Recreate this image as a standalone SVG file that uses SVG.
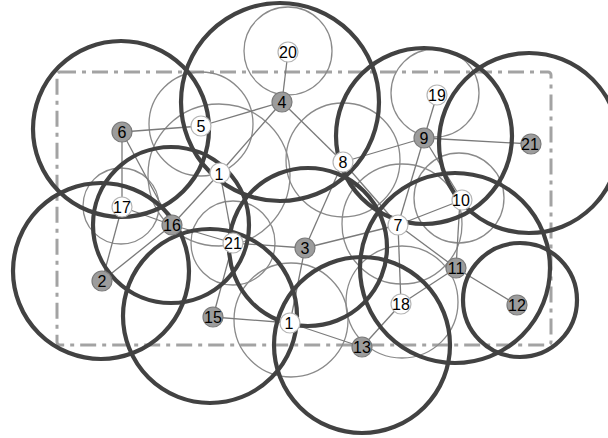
<svg xmlns="http://www.w3.org/2000/svg" width="608" height="438" viewBox="0 0 608 438">
<style>
.bg{fill:#ffffff}
.frame{fill:none;stroke:#a3a3a3;stroke-width:3;stroke-dasharray:16 6 4 6}
.thin{fill:none;stroke:#8a8a8a;stroke-width:1.3}
.thick{fill:none;stroke:#424242;stroke-width:4.2}
.edge{stroke:#7a7a7a;stroke-width:1.3;fill:none}
.ng{fill:#9c9c9c;stroke:#7a7a7a;stroke-width:1.2}
.nw{fill:#ffffff;stroke:#b5b5b5;stroke-width:1.2}
.lbl{font-family:"Liberation Sans",Arial,sans-serif;font-size:16px;fill:#000;text-anchor:middle;dominant-baseline:central}
</style>
<rect class="bg" x="0" y="0" width="608" height="438"/>
<rect class="frame" x="57" y="72" width="494" height="273" rx="3"/>
<g id="thin-circles">
<circle class="thin" cx="288" cy="51" r="44"/>
<circle class="thin" cx="435" cy="93" r="44"/>
<circle class="thin" cx="201" cy="124" r="52"/>
<circle class="thin" cx="219" cy="175" r="71"/>
<circle class="thin" cx="121" cy="206" r="38"/>
<circle class="thin" cx="233" cy="243" r="42"/>
<circle class="thin" cx="343" cy="160" r="57"/>
<circle class="thin" cx="459" cy="198" r="45"/>
<circle class="thin" cx="402" cy="224" r="60"/>
<circle class="thin" cx="402" cy="302" r="56"/>
<circle class="thin" cx="291" cy="320" r="57"/>
</g>
<g id="connectors">
<line class="edge" x1="288" y1="52" x2="282" y2="102"/>
<line class="edge" x1="282" y1="102" x2="201" y2="126"/>
<line class="edge" x1="201" y1="126" x2="122" y2="132"/>
<line class="edge" x1="122" y1="132" x2="122" y2="207"/>
<line class="edge" x1="122" y1="132" x2="172" y2="225"/>
<line class="edge" x1="282" y1="102" x2="220" y2="173"/>
<line class="edge" x1="282" y1="102" x2="343" y2="162"/>
<line class="edge" x1="220" y1="173" x2="233" y2="243"/>
<line class="edge" x1="220" y1="173" x2="172" y2="225"/>
<line class="edge" x1="343" y1="162" x2="424" y2="138"/>
<line class="edge" x1="343" y1="162" x2="305" y2="248"/>
<line class="edge" x1="343" y1="162" x2="398" y2="225"/>
<line class="edge" x1="305" y1="248" x2="233" y2="243"/>
<line class="edge" x1="305" y1="248" x2="398" y2="225"/>
<line class="edge" x1="305" y1="248" x2="290" y2="323"/>
<line class="edge" x1="290" y1="323" x2="213" y2="317"/>
<line class="edge" x1="290" y1="323" x2="362" y2="347"/>
<line class="edge" x1="213" y1="317" x2="233" y2="243"/>
<line class="edge" x1="401" y1="304" x2="362" y2="347"/>
<line class="edge" x1="401" y1="304" x2="398" y2="225"/>
<line class="edge" x1="401" y1="304" x2="456" y2="268"/>
<line class="edge" x1="456" y1="268" x2="517" y2="305"/>
<line class="edge" x1="456" y1="268" x2="460" y2="200"/>
<line class="edge" x1="456" y1="268" x2="398" y2="225"/>
<line class="edge" x1="462" y1="200" x2="398" y2="225"/>
<line class="edge" x1="424" y1="138" x2="398" y2="225"/>
<line class="edge" x1="424" y1="138" x2="437" y2="95"/>
<line class="edge" x1="424" y1="138" x2="531" y2="144"/>
<line class="edge" x1="424" y1="138" x2="462" y2="200"/>
<line class="edge" x1="172" y1="225" x2="122" y2="207"/>
<line class="edge" x1="172" y1="225" x2="102" y2="281"/>
<line class="edge" x1="122" y1="207" x2="102" y2="281"/>
<line class="edge" x1="172" y1="225" x2="233" y2="243"/>
</g>
<g id="thick-circles">
<circle class="thick" cx="121" cy="129" r="88"/>
<circle class="thick" cx="280" cy="102" r="99"/>
<circle class="thick" cx="424" cy="136" r="88"/>
<circle class="thick" cx="529" cy="143" r="90"/>
<circle class="thick" cx="101" cy="271" r="88"/>
<circle class="thick" cx="171" cy="225" r="78"/>
<circle class="thick" cx="210" cy="316" r="87"/>
<circle class="thick" cx="308" cy="247" r="79"/>
<circle class="thick" cx="362" cy="345" r="88"/>
<circle class="thick" cx="455" cy="268" r="95"/>
<circle class="thick" cx="520" cy="300" r="57"/>
</g>
<g id="n20"><circle class="nw" cx="288" cy="52" r="10"/><text class="lbl" x="288" y="52">20</text></g>
<g id="n4"><circle class="ng" cx="282" cy="102" r="10"/><text class="lbl" x="282" y="102">4</text></g>
<g id="n5"><circle class="nw" cx="201" cy="126" r="10"/><text class="lbl" x="201" y="126">5</text></g>
<g id="n6"><circle class="ng" cx="122" cy="132" r="10"/><text class="lbl" x="122" y="132">6</text></g>
<g id="n1a"><circle class="nw" cx="220" cy="173" r="10"/><text class="lbl" x="219" y="174">1</text></g>
<g id="n17"><circle class="nw" cx="122" cy="207" r="10"/><text class="lbl" x="122" y="207">17</text></g>
<g id="n16"><circle class="ng" cx="172" cy="225" r="10"/><text class="lbl" x="172" y="225">16</text></g>
<g id="n21a"><circle class="nw" cx="233" cy="243" r="10"/><text class="lbl" x="233" y="243">21</text></g>
<g id="n2"><circle class="ng" cx="102" cy="281" r="10"/><text class="lbl" x="102" y="281">2</text></g>
<g id="n3"><circle class="ng" cx="305" cy="248" r="10"/><text class="lbl" x="305" y="248">3</text></g>
<g id="n8"><circle class="nw" cx="343" cy="162" r="10"/><text class="lbl" x="343" y="162">8</text></g>
<g id="n9"><circle class="ng" cx="424" cy="138" r="10"/><text class="lbl" x="424" y="138">9</text></g>
<g id="n19"><circle class="nw" cx="437" cy="95" r="10"/><text class="lbl" x="437" y="95">19</text></g>
<g id="n21b"><circle class="ng" cx="531" cy="144" r="10"/><text class="lbl" x="530" y="144">21</text></g>
<g id="n10"><circle class="nw" cx="462" cy="200" r="10"/><text class="lbl" x="461" y="200">10</text></g>
<g id="n7"><circle class="nw" cx="398" cy="225" r="10"/><text class="lbl" x="398" y="225">7</text></g>
<g id="n11"><circle class="ng" cx="456" cy="268" r="10"/><text class="lbl" x="456" y="268">11</text></g>
<g id="n12"><circle class="ng" cx="517" cy="305" r="10"/><text class="lbl" x="517" y="305">12</text></g>
<g id="n18"><circle class="nw" cx="401" cy="304" r="10"/><text class="lbl" x="401" y="304">18</text></g>
<g id="n13"><circle class="ng" cx="362" cy="347" r="10"/><text class="lbl" x="362" y="347">13</text></g>
<g id="n15"><circle class="ng" cx="213" cy="317" r="10"/><text class="lbl" x="213" y="317">15</text></g>
<g id="n1b"><circle class="nw" cx="290" cy="323" r="10"/><text class="lbl" x="289" y="323">1</text></g>
</svg>
